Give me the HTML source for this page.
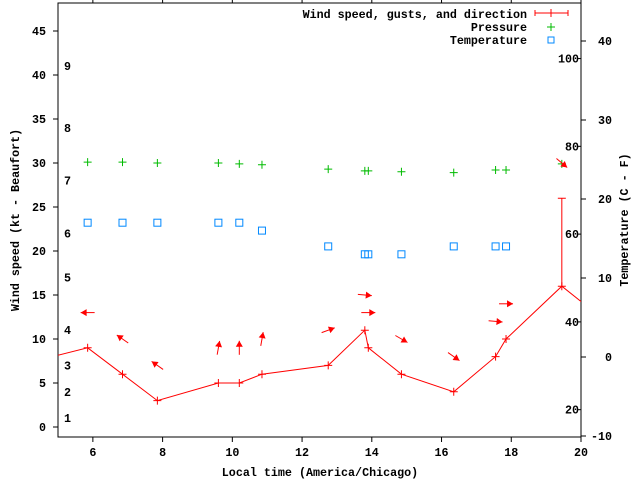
<!DOCTYPE html>
<html><head><meta charset="utf-8"><style>
body{margin:0;background:#fff}
svg text{font-family:"Liberation Mono",monospace;font-weight:bold;font-size:11.7px;fill:#000}
</style></head><body>
<svg id="c" width="640" height="480" xmlns="http://www.w3.org/2000/svg"></svg>
<script>
const times=[5.85,6.85,7.85,9.6,10.2,10.85,12.75,13.8,13.9,14.85,16.35,17.55,17.85,19.45];
const windSpeed=[9,6,3,5,5,6,7,11,9,6,4,8,10,16];
const lineTimes=[4.85,5.85,6.85,7.85,9.6,10.2,10.85,12.75,13.8,13.9,14.85,16.35,17.55,17.85,19.45,20.4];
const lineSpeed=[8,9,6,3,5,5,6,7,11,9,6,4,8,10,16,13];
const gustTimes=[19.45];
const gustLow=[16];
const gustHigh=[26];
const arrowY=[13,10,7,9,9,10,11,15,13,10,8,12,14,30];
const arrowDir=[180,145,145,80,90,80,20,-5,0,-30,-35,-5,0,-40];
const pressure=[30.1,30.1,30,30,29.9,29.8,29.3,29.1,29.1,29,28.9,29.2,29.2,29.9];
const tempTimes=[5.85,6.85,7.85,9.6,10.2,10.85,12.75,13.8,13.9,14.85,16.35,17.55,17.85];
const tempC=[17,17,17,17,17,16,14,13,13,13,14,14,14];
const xTicks=[6,8,10,12,14,16,18,20];
const yTicks=[0,5,10,15,20,25,30,35,40,45];
const cTicks=[-10,0,10,20,30,40];
const fTicks=[20,40,60,80,100];
const beaufort=[[1,1],[2,4],[3,7],[4,11],[5,17],[6,22],[7,28],[8,34],[9,41]];

const L=58,R=581,T=3,B=437;
const X=t=>L+(t-5)*(R-L)/15;
const Y=v=>427-v*8.8;
const YC=c=>357-c*7.9;
const YF=f=>YC((f-32)*5/9);
const svg=document.getElementById('c');
const NS='http://www.w3.org/2000/svg';
function mk(tag,attrs,name,parent){const e=document.createElementNS(NS,tag);for(const k in attrs)e.setAttribute(k,attrs[k]);


(parent||svg).appendChild(e);return e;}
function txt(x,y,s,anchor,name,extra){const e=mk('text',Object.assign({x:x,y:y,'text-anchor':anchor},extra||{}),name);e.textContent=s;return e;}
const defs=mk('defs',{},'defs');
const cp=mk('clipPath',{id:'clip'},'plot-clip',defs);
mk('rect',{x:L,y:T,width:R-L,height:B-T},'plot-clip-rect',cp);
mk('rect',{x:L,y:T,width:R-L,height:B-T,fill:'none',stroke:'#000','stroke-width':1},'plot-frame');
xTicks.forEach(t=>{mk('line',{x1:X(t),y1:B,x2:X(t),y2:B+5,stroke:'#000'},'x-tick');
mk('line',{x1:X(t),y1:T,x2:X(t),y2:T-4,stroke:'#000'},'x-tick-top');
txt(X(t),B+19,String(t),'middle','x-tick-label');});
yTicks.forEach(v=>{mk('line',{x1:L-5,y1:Y(v),x2:L,y2:Y(v),stroke:'#000'},'y-tick');
txt(L-12,Y(v)+4,String(v),'end','y-tick-label');});
cTicks.forEach(c=>{mk('line',{x1:R,y1:YC(c),x2:R+5,y2:YC(c),stroke:'#000'},'y2-tick');
txt(R+31,YC(c)+4,String(c),'end','y2-tick-label');});
fTicks.forEach(f=>{mk('line',{x1:R-4,y1:YF(f),x2:R,y2:YF(f),stroke:'#000'},'f-tick');
txt(R-2,YF(f)+4,String(f),'end','f-tick-label');});
beaufort.forEach(b=>txt(64,Y(b[1])+4,String(b[0]),'start','beaufort-label'));
txt(320,476,'Local time (America/Chicago)','middle','x-axis-title');
txt(19,220,'Wind speed (kt - Beaufort)','middle','y-axis-title',{transform:'rotate(-90 19 220)'});
txt(628,220,'Temperature (C - F)','middle','y2-axis-title',{transform:'rotate(-90 628 220)'});
const g=mk('g',{'clip-path':'url(#clip)'},'plot-area');
function plus(x,y,col,name){mk('path',{d:`M${x-4} ${y}h8M${x} ${y-4}v8`,stroke:col,'stroke-width':1,fill:'none'},name,g);}
mk('polyline',{points:lineTimes.map((t,i)=>X(t)+','+Y(lineSpeed[i])).join(' '),fill:'none',stroke:'#f00','stroke-width':1},'wind-speed-line',g);
times.forEach((t,i)=>plus(X(t),Y(windSpeed[i]),'#f00','wind-speed-point'));
gustTimes.forEach((t,i)=>{mk('path',{d:`M${X(t)} ${Y(gustLow[i])}V${Y(gustHigh[i])}M${X(t)-4} ${Y(gustHigh[i])}h8`,stroke:'#f00',fill:'none'},'gust-bar',g);});
pressure.forEach((p,i)=>plus(X(times[i]),Y(p),'#0b0','pressure-point'));
tempC.forEach((c,i)=>mk('rect',{x:X(tempTimes[i])-3.5,y:YC(c)-3.5,width:7,height:7,fill:'none',stroke:'#08f','stroke-width':1},'temperature-point',g));
arrowY.forEach((v,i)=>{const cx=X(times[i]),cy=Y(v),a=arrowDir[i]*Math.PI/180,dx=Math.cos(a),dy=-Math.sin(a);
const x1=cx-dx*7,y1=cy-dy*7,x2=cx+dx*7,y2=cy+dy*7;
mk('line',{x1:x1,y1:y1,x2:x2,y2:y2,stroke:'#f00'},'wind-direction-arrow',g);
const px=-dy,py=dx;
mk('polygon',{points:`${x2},${y2} ${x2-dx*6+px*3.5},${y2-dy*6+py*3.5} ${x2-dx*6-px*3.5},${y2-dy*6-py*3.5}`,fill:'#f00'},'wind-direction-arrowhead',g);});
txt(527,18,'Wind speed, gusts, and direction','end','legend-wind-label');
mk('path',{d:'M535 13h33M535 10v6M568 10v6M551 9v8',stroke:'#f00',fill:'none'},'legend-wind-sample');
txt(527,31,'Pressure','end','legend-pressure-label');
mk('path',{d:'M547 27h8M551 23v8',stroke:'#0b0',fill:'none'},'legend-pressure-sample');
txt(527,44,'Temperature','end','legend-temperature-label');
mk('rect',{x:548,y:37,width:6,height:6,fill:'none',stroke:'#08f'},'legend-temperature-sample');
</script>
</body></html>
